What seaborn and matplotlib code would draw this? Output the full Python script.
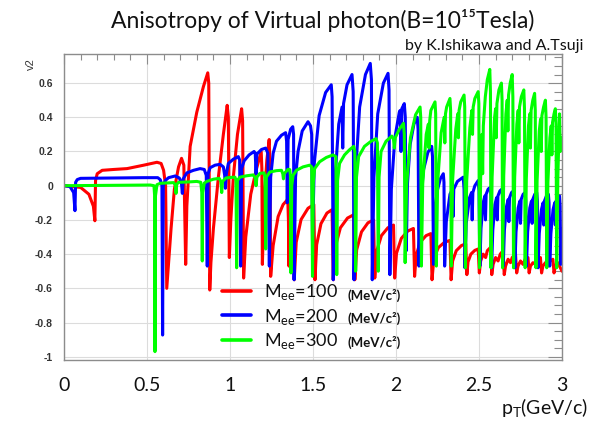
import matplotlib
matplotlib.use("Agg")
import matplotlib.pyplot as plt
import seaborn as sns
import pandas as pd
from matplotlib.ticker import MultipleLocator, FuncFormatter
from matplotlib.lines import Line2D

# ---------------------------------------------------------------- data
pt_m100 = [0.000, 0.100, 0.150, 0.177, 0.186, 0.190, 0.200, 0.230, 0.300, 0.380,
           0.480, 0.560, 0.585, 0.600, 0.612, 0.619, 0.630, 0.645, 0.665, 0.690,
           0.708, 0.722, 0.733, 0.740, 0.760, 0.800, 0.840, 0.866, 0.872, 0.878,
           0.885, 0.900, 0.930, 0.960, 0.983, 0.990, 0.996, 1.005, 1.020, 1.045,
           1.070, 1.076, 1.082, 1.095, 1.125, 1.160, 1.188, 1.192, 1.195, 1.205,
           1.222, 1.236, 1.240, 1.245, 1.260, 1.290, 1.320, 1.348, 1.352, 1.355,
           1.360, 1.378, 1.383, 1.387,
           1.399, 1.428, 1.470, 1.505, 1.512,
           1.522, 1.548, 1.584, 1.615, 1.622,
           1.634, 1.665, 1.708, 1.745, 1.752,
           1.763, 1.792, 1.831, 1.865, 1.872,
           1.883, 1.912, 1.951, 1.985, 1.992,
           2.003, 2.032, 2.071, 2.105, 2.112,
           2.122, 2.146, 2.181, 2.210, 2.217,
           2.228, 2.255, 2.293, 2.325, 2.332,
           2.341, 2.363, 2.394, 2.420, 2.427,
           2.434, 2.451, 2.475, 2.495, 2.502,
           2.510, 2.525, 2.540, 2.550, 2.570, 2.577,
           2.585, 2.600, 2.615, 2.628, 2.645, 2.652,
           2.660, 2.675, 2.690, 2.700, 2.720, 2.727,
           2.735, 2.750, 2.765, 2.778, 2.795, 2.802,
           2.810, 2.825, 2.840, 2.853, 2.870, 2.877,
           2.885, 2.900, 2.915, 2.928, 2.945, 2.952,
           2.960, 2.975, 2.985, 3.000]
v2_m100 = [0.000, -0.010, -0.050, -0.120, -0.205, 0.030, 0.070, 0.090, 0.095, 0.100,
           0.120, 0.137, 0.130, 0.090, 0.000, -0.600, -0.450, -0.250, -0.020, 0.110,
           0.160, 0.120, -0.460, -0.120, 0.230, 0.430, 0.580, 0.660, 0.600, -0.610,
           -0.450, -0.250, 0.050, 0.300, 0.470, 0.400, -0.420, -0.200, 0.050, 0.300,
           0.450, 0.380, -0.540, -0.300, -0.050, 0.100, 0.200, 0.100, -0.460, -0.100,
           0.150, 0.270, 0.150, -0.530, -0.350, -0.180, -0.110, -0.080, -0.200, -0.470,
           -0.120, -0.050, -0.150, -0.550,
           -0.330, -0.198, -0.132, -0.110, -0.550,
           -0.345, -0.222, -0.160, -0.140, -0.550,
           -0.360, -0.246, -0.189, -0.170, -0.550,
           -0.375, -0.270, -0.217, -0.200, -0.540,
           -0.385, -0.292, -0.246, -0.230, -0.540,
           -0.395, -0.308, -0.265, -0.250, -0.530,
           -0.405, -0.330, -0.292, -0.280, -0.550,
           -0.425, -0.362, -0.330, -0.320, -0.550,
           -0.440, -0.380, -0.350, -0.340, -0.520,
           -0.445, -0.400, -0.378, -0.370, -0.510,
           -0.440, -0.400, -0.420, -0.380, -0.360, -0.520,
           -0.460, -0.420, -0.440, -0.400, -0.380, -0.520,
           -0.470, -0.430, -0.450, -0.420, -0.400, -0.510,
           -0.470, -0.440, -0.460, -0.430, -0.420, -0.510,
           -0.470, -0.450, -0.460, -0.430, -0.420, -0.510,
           -0.470, -0.450, -0.470, -0.440, -0.430, -0.510,
           -0.470, -0.450, -0.470, -0.500]

pt_m200 = [0.000, 0.036, 0.058, 0.066, 0.070, 0.080, 0.100, 0.300, 0.480, 0.565,
           0.580, 0.590, 0.594, 0.598, 0.610, 0.630, 0.670, 0.695, 0.708, 0.713,
           0.718, 0.740, 0.780, 0.820, 0.845, 0.857, 0.863, 0.868, 0.880, 0.910,
           0.940, 0.960, 0.968, 0.972, 0.978, 0.990, 1.020, 1.050, 1.058, 1.064,
           1.070, 1.085, 1.115, 1.145, 1.152, 1.157, 1.162, 1.190, 1.215, 1.228,
           1.237, 1.245, 1.260, 1.280, 1.310, 1.335, 1.341, 1.345, 1.350, 1.365,
           1.378, 1.383, 1.386,
           1.395, 1.410, 1.435, 1.470, 1.485, 1.492, 1.497,
           1.508, 1.537, 1.576, 1.610, 1.615, 1.622,
           1.633, 1.655, 1.675, 1.679, 1.684, 1.705, 1.735, 1.742, 1.747,
           1.757, 1.781, 1.816, 1.845, 1.852, 1.857,
           1.867, 1.890, 1.924, 1.952, 1.958, 1.963,
           1.972, 1.993, 2.020, 2.025, 2.030, 2.035, 2.050, 2.056, 2.062,
           2.069, 2.085, 2.108, 2.128, 2.133, 2.138,
           2.146, 2.165, 2.192, 2.215, 2.220, 2.226,
           2.232, 2.247, 2.267, 2.285, 2.289, 2.293,
           2.303, 2.325, 2.340, 2.344, 2.348, 2.370, 2.405, 2.410, 2.415,
           2.423, 2.443, 2.455, 2.459, 2.463, 2.475, 2.495, 2.500, 2.505,
           2.512, 2.525, 2.535, 2.539, 2.543, 2.555, 2.568, 2.572, 2.576,
           2.583, 2.596, 2.606, 2.610, 2.614, 2.626, 2.638, 2.642, 2.646,
           2.653, 2.666, 2.676, 2.680, 2.684, 2.696, 2.708, 2.712, 2.716,
           2.723, 2.736, 2.746, 2.750, 2.754, 2.766, 2.778, 2.782, 2.786,
           2.793, 2.806, 2.816, 2.820, 2.824, 2.836, 2.848, 2.852, 2.856,
           2.863, 2.876, 2.886, 2.890, 2.894, 2.906, 2.918, 2.922, 2.926,
           2.933, 2.946, 2.956, 2.960, 2.964, 2.976, 2.985, 2.989, 2.993, 3.000]
v2_m200 = [0.000, -0.005, -0.040, -0.146, 0.020, 0.036, 0.043, 0.045, 0.047, 0.047,
           0.035, 0.000, -0.873, 0.000, 0.030, 0.047, 0.057, 0.045, 0.010, -0.045,
           0.040, 0.075, 0.090, 0.100, 0.095, 0.060, -0.470, 0.070, 0.105, 0.120,
           0.125, 0.110, 0.060, -0.015, 0.070, 0.130, 0.155, 0.170, 0.150, -0.470,
           0.100, 0.145, 0.180, 0.200, 0.190, 0.070, 0.185, 0.212, 0.220, 0.190,
           -0.470, 0.050, 0.190, 0.260, 0.295, 0.310, 0.260, -0.100, 0.270, 0.330,
           0.345, 0.300, -0.550,
           0.050, 0.200, 0.320, 0.374, 0.350, 0.300, -0.320,
           0.135, 0.410, 0.545, 0.590, 0.520, -0.550,
           0.050, 0.360, 0.460, 0.220, 0.480, 0.590, 0.650, 0.550, -0.550,
           0.080, 0.460, 0.650, 0.715, 0.620, -0.550,
           0.050, 0.420, 0.600, 0.657, 0.560, -0.520,
           -0.020, 0.280, 0.430, 0.440, 0.200, 0.450, 0.480, 0.400, -0.380,
           0.010, 0.240, 0.360, 0.400, 0.330, -0.470,
           -0.120, 0.090, 0.195, 0.230, 0.170, -0.460,
           -0.195, -0.035, 0.040, 0.070, 0.020, -0.470,
           -0.210, -0.050, -0.020, -0.180, -0.020, 0.025, 0.050, -0.020, -0.480,
           -0.220, -0.070, -0.040, -0.200, -0.040, 0.000, 0.030, -0.030, -0.470,
           -0.250, -0.100, -0.060, -0.200, -0.050, -0.020, -0.010, -0.060, -0.480,
           -0.260, -0.110, -0.070, -0.200, -0.060, -0.030, -0.020, -0.070, -0.470,
           -0.260, -0.120, -0.080, -0.210, -0.070, -0.040, -0.030, -0.080, -0.480,
           -0.270, -0.130, -0.090, -0.220, -0.080, -0.050, -0.040, -0.090, -0.470,
           -0.270, -0.130, -0.090, -0.220, -0.080, -0.050, -0.040, -0.090, -0.480,
           -0.280, -0.140, -0.100, -0.230, -0.090, -0.060, -0.050, -0.100, -0.470,
           -0.280, -0.140, -0.100, -0.230, -0.090, -0.070, -0.060, -0.120, -0.460, -0.250]

pt_m300 = [0.000, 0.300, 0.520, 0.542, 0.546, 0.548, 0.551, 0.560, 0.580, 0.620,
           0.660, 0.671, 0.675, 0.679, 0.690, 0.750, 0.800, 0.824, 0.830, 0.833,
           0.836, 0.845, 0.860, 0.900, 0.935, 0.945, 0.950, 0.955, 0.975, 1.000,
           1.030, 1.036, 1.040, 1.044, 1.060, 1.100, 1.140, 1.152, 1.157, 1.162,
           1.180, 1.205, 1.211, 1.215, 1.219, 1.240, 1.280, 1.310, 1.318, 1.322,
           1.326, 1.350, 1.360, 1.364, 1.367, 1.372, 1.380, 1.400, 1.440, 1.480,
           1.492, 1.497, 1.502, 1.510, 1.540, 1.580, 1.620, 1.638, 1.643, 1.648,
           1.660, 1.690, 1.720, 1.745, 1.752, 1.757, 1.762, 1.775, 1.810, 1.850,
           1.880, 1.888, 1.893, 1.898, 1.910, 1.940, 1.975, 1.985, 1.990, 1.995,
           2.020, 2.045, 2.050, 2.055,
           2.064, 2.087, 2.118, 2.145, 2.149, 2.153,
           2.161, 2.182, 2.195, 2.199, 2.203, 2.210, 2.235, 2.239, 2.243,
           2.251, 2.272, 2.290, 2.294, 2.298, 2.305, 2.325, 2.329, 2.333,
           2.341, 2.360, 2.372, 2.376, 2.380, 2.390, 2.410, 2.414, 2.418,
           2.426, 2.445, 2.457, 2.461, 2.465, 2.475, 2.495, 2.499, 2.503,
           2.510, 2.518, 2.522, 2.526, 2.538, 2.550, 2.565, 2.569, 2.572,
           2.579, 2.594, 2.600, 2.604, 2.608, 2.620, 2.635, 2.639, 2.642,
           2.649, 2.662, 2.670, 2.674, 2.678, 2.688, 2.700, 2.704, 2.708,
           2.715, 2.728, 2.736, 2.740, 2.744, 2.755, 2.770, 2.774, 2.778,
           2.785, 2.798, 2.806, 2.810, 2.814, 2.824, 2.835, 2.839, 2.843,
           2.850, 2.863, 2.871, 2.875, 2.879, 2.889, 2.900, 2.904, 2.908,
           2.915, 2.927, 2.935, 2.939, 2.943, 2.952, 2.960, 2.964, 2.968,
           2.975, 2.985, 2.990, 3.000]
v2_m300 = [0.000, 0.002, 0.004, 0.000, -0.060, -0.970, -0.060, 0.006, 0.014, 0.016,
           0.018, 0.005, -0.045, 0.008, 0.020, 0.022, 0.025, 0.020, -0.040, -0.440,
           -0.040, 0.015, 0.025, 0.038, 0.043, 0.025, -0.040, 0.025, 0.045, 0.048,
           0.050, 0.030, -0.480, 0.030, 0.050, 0.058, 0.063, 0.045, 0.000, 0.050,
           0.072, 0.075, 0.050, -0.370, 0.050, 0.080, 0.088, 0.090, 0.070, 0.040,
           0.070, 0.096, 0.094, 0.060, -0.510, 0.000, 0.060, 0.090, 0.110, 0.120,
           0.110, -0.530, 0.020, 0.100, 0.140, 0.165, 0.180, 0.170, -0.520, 0.030,
           0.130, 0.180, 0.210, 0.230, 0.200, -0.500, 0.050, 0.170, 0.230, 0.260,
           0.275, 0.250, -0.500, 0.050, 0.200, 0.260, 0.290, 0.270, 0.220, 0.280,
           0.330, 0.365, 0.300, -0.450,
           0.005, 0.280, 0.415, 0.460, 0.400, -0.470,
           0.010, 0.300, 0.360, 0.220, 0.380, 0.440, 0.490, 0.420, -0.470,
           0.020, 0.310, 0.400, 0.250, 0.420, 0.460, 0.510, 0.440, -0.470,
           0.030, 0.330, 0.420, 0.280, 0.440, 0.490, 0.530, 0.460, -0.480,
           0.030, 0.340, 0.440, 0.300, 0.460, 0.510, 0.550, 0.480, -0.480,
           0.050, 0.300, 0.070, 0.350, 0.520, 0.620, 0.680, 0.550, -0.480,
           0.050, 0.400, 0.450, 0.280, 0.480, 0.560, 0.600, 0.500, -0.480,
           0.060, 0.420, 0.500, 0.320, 0.530, 0.600, 0.650, 0.520, -0.480,
           0.050, 0.360, 0.440, 0.250, 0.460, 0.520, 0.560, 0.450, -0.480,
           0.040, 0.350, 0.420, 0.220, 0.440, 0.500, 0.540, 0.440, -0.480,
           0.030, 0.320, 0.390, 0.200, 0.410, 0.460, 0.500, 0.400, -0.480,
           0.020, 0.280, 0.350, 0.180, 0.370, 0.420, 0.450, 0.360, -0.480,
           0.050, 0.420, 0.200, 0.280]

mass_labels = ["100", "200", "300"]
line_colors = ["#ff0000", "#0000ff", "#00ff00"]

# ---------------------------------------------------------------- frame
sns.set_theme(style="white")
plt.rcParams["font.family"] = ["Lato", "DejaVu Sans"]
plt.rcParams["mathtext.fontset"] = "custom"
plt.rcParams["mathtext.rm"] = "Lato"

series = []
for mass, pts, vals in zip(mass_labels, [pt_m100, pt_m200, pt_m300],
                           [v2_m100, v2_m200, v2_m300]):
    series.append(pd.DataFrame({"pT": pts, "v2": vals, "Mee": mass}))
df = pd.concat(series, ignore_index=True)

W, H = 594, 423
fig = plt.figure(figsize=(W / 100, H / 100), dpi=100)
fig.patch.set_facecolor("white")
ax = fig.add_axes([64 / W, (H - 360) / H, 498 / W, 306 / H])

sns.lineplot(data=df, x="pT", y="v2", hue="Mee", hue_order=mass_labels,
             palette=line_colors, sort=False, estimator=None, linewidth=2.2,
             legend=False, ax=ax)

ax.set_xlim(0, 3)
ax.set_ylim(-1.019, 0.770)
ax.set_xlabel("")
ax.set_ylabel("")

frame_col = "#8c8c8c"
for sp in ax.spines.values():
    sp.set_color(frame_col)
    sp.set_linewidth(1.0)

ax.xaxis.set_major_locator(MultipleLocator(0.5))
ax.xaxis.set_minor_locator(MultipleLocator(0.1))
ax.yaxis.set_major_locator(MultipleLocator(0.2))
ax.yaxis.set_minor_locator(MultipleLocator(0.05))


def clean(v, _):
    v = round(v, 2)
    if v == 0:
        return "0"
    return f"{v:g}"


ax.xaxis.set_major_formatter(FuncFormatter(clean))
ax.yaxis.set_major_formatter(FuncFormatter(clean))

ax.grid(True, which="major", color="#dcdcdc", linewidth=0.8)
ax.set_axisbelow(True)

ax.tick_params(axis="both", which="both", direction="in", top=True, right=True,
               color=frame_col, width=0.8)
ax.tick_params(axis="y", which="major", length=10, pad=8,
               labelsize=7.5, labelcolor="#333333")
ax.tick_params(axis="y", which="minor", length=5.5)
ax.tick_params(axis="x", which="major", length=7, pad=12,
               labelsize=14, labelcolor="#111111")
ax.tick_params(axis="x", which="minor", length=4)
for lab in ax.get_yticklabels():
    lab.set_fontfamily(["Liberation Sans", "DejaVu Sans"])
    lab.set_fontweight("bold")

# ---------------------------------------------------------------- texts
fig.text(323 / W, 1 - 21 / H, "Anisotropy of Virtual photon(B=10¹⁵Tesla)",
         ha="center", va="center", fontsize=16.5, color="#111111")
fig.text(583 / W, 1 - 46 / H, "by K.Ishikawa and A.Tsuji",
         ha="right", va="center", fontsize=11.5, color="#111111")
fig.text(588 / W, 1 - 408 / H, r"p$_\mathrm{T}$(GeV/c)",
         ha="right", va="center", fontsize=14, color="#111111")
fig.text(31 / W, 1 - 64 / H, "v2", rotation=90, ha="center", va="center",
         fontsize=8, color="#333333",
         family=["Liberation Sans", "DejaVu Sans"])

# legend: coloured line with M_ee label, then the unit in bold
handles = [Line2D([], [], color=c, linewidth=2.6) for c in line_colors]
labels = [r"M$_\mathrm{ee}$=" + m for m in mass_labels]
leg = ax.legend(handles, labels, loc="upper left", frameon=False,
                bbox_to_anchor=(222 / W, 1 - 282 / H),
                bbox_transform=fig.transFigure, fontsize=13,
                handlelength=1.6, handletextpad=0.75, labelspacing=0.25,
                borderpad=0, borderaxespad=0)
for t in leg.get_texts():
    t.set_color("#111111")
for ypx in [295, 318, 342]:
    fig.text(348 / W, 1 - ypx / H, "(MeV/c²)", ha="left", va="center",
             fontsize=9.5, fontweight="bold", color="#111111")

fig.savefig("out.png", dpi=100, facecolor="white")
